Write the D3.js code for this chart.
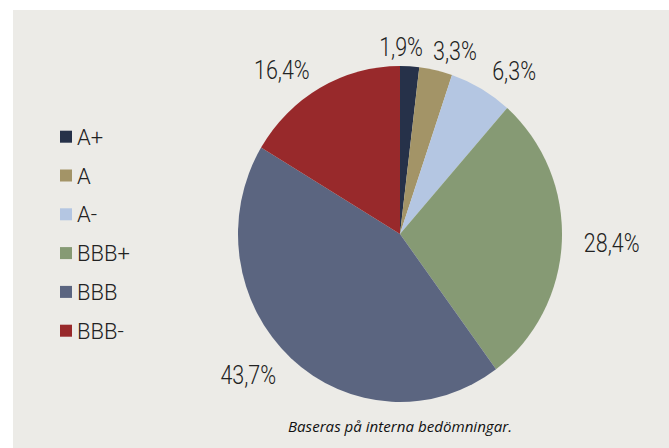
<!DOCTYPE html>
<html>
<head>
<meta charset="utf-8">
<script src="https://cdn.jsdelivr.net/npm/d3@7"></script>
<style>
  body { margin: 0; background: #fff; }
</style>
</head>
<body>
<div id="chart"></div>
<script>
// data
const ratings = ["A+", "A", "A-", "BBB+", "BBB", "BBB-"]
const shares = [1.9, 3.3, 6.3, 28.4, 43.7, 16.4]
const colors = ["#263149", "#a39467", "#b4c6e2", "#869a74", "#5b6580", "#98292b"]
const caption = "Baseras på interna bedömningar."

let width = 669,
    height = 448

let svg = d3.select("#chart").append("svg")
    .attr("width", width)
    .attr("height", height)

// grey panel
svg.append("rect")
    .attr("x", 13).attr("y", 10)
    .attr("width", width - 13).attr("height", height - 10)
    .attr("fill", "#ecebe7")

const sv = d3.formatLocale({decimal: ",", thousands: " ", grouping: [3], currency: ["", " kr"]})
const pct = v => sv.format(".1f")(v) + "%"

const cx = 400, cy = 234, rx = 162, ry = 168

let pie = d3.pie().sort(null).value(d => d)
let arcs = pie(shares)
let arc = d3.arc().innerRadius(0).outerRadius(rx)

let color = d3.scaleOrdinal().domain(ratings).range(colors)

svg.append("g")
    .attr("transform", `translate(${cx},${cy}) scale(1,${ry / rx})`)
    .selectAll("path")
    .data(arcs)
    .enter()
    .append("path")
    .attr("d", arc)
    .attr("fill", (d, i) => color(ratings[i]))

// value labels outside the slices
let padX = 22, padY = 10, sx = 0.86
let lab = svg.append("g")
    .style("font-family", "Roboto")
    .style("font-weight", 300)
    .style("font-size", "25px")
    .attr("fill", "#222")

let sat = v => Math.sign(v) * Math.min(1, Math.abs(v) * 2)

let nodes = arcs.map((d, i) => {
    let t = lab.append("text").text(pct(shares[i]))
    let w = t.node().getComputedTextLength() * sx
    let h = 18
    let a = (d.startAngle + d.endAngle) / 2
    let s = Math.sin(a), c = Math.cos(a)
    return {t, w, x: cx + (rx + padX) * s + w / 2 * sat(s), y: cy - (ry + padY) * c - h / 2 * sat(c)}
})

// push apart labels that overlap
for (let k = 0; k < 20; k++) {
    for (let i = 0; i < nodes.length; i++) {
        for (let j = i + 1; j < nodes.length; j++) {
            let a = nodes[i], b = nodes[j]
            let need = (a.w + b.w) / 2 + 10
            if (Math.abs(a.y - b.y) < 22 && Math.abs(a.x - b.x) < need) {
                let m = (a.x + b.x) / 2 - 4, sgn = a.x <= b.x ? 1 : -1
                a.x = m - sgn * need / 2
                b.x = m + sgn * need / 2
            }
        }
    }
}

nodes.forEach(n => {
    n.t.attr("text-anchor", "middle")
        .attr("transform", `translate(${n.x},${n.y + 9}) scale(${sx},1)`)
})

// legend
let ly = d3.scalePoint().domain(ratings).range([136.7, 330.7])

let legend = svg.append("g")
    .selectAll("g")
    .data(ratings)
    .enter()
    .append("g")
    .attr("transform", d => `translate(60,${ly(d)})`)

legend.append("rect")
    .attr("x", 0).attr("y", -6)
    .attr("width", 12).attr("height", 12)
    .attr("fill", d => color(d))

legend.append("text")
    .attr("x", 17).attr("y", 8)
    .style("font-family", "Roboto")
    .style("font-weight", 300)
    .style("font-size", "22px")
    .attr("fill", "#222")
    .text(d => d)

svg.append("text")
    .attr("x", 400).attr("y", 432)
    .attr("text-anchor", "middle")
    .style("font-family", "Open Sans")
    .style("font-style", "italic")
    .style("font-size", "14px")
    .attr("fill", "#111")
    .attr("textLength", 224)
    .attr("lengthAdjust", "spacingAndGlyphs")
    .text(caption)
</script>
</body>
</html>
